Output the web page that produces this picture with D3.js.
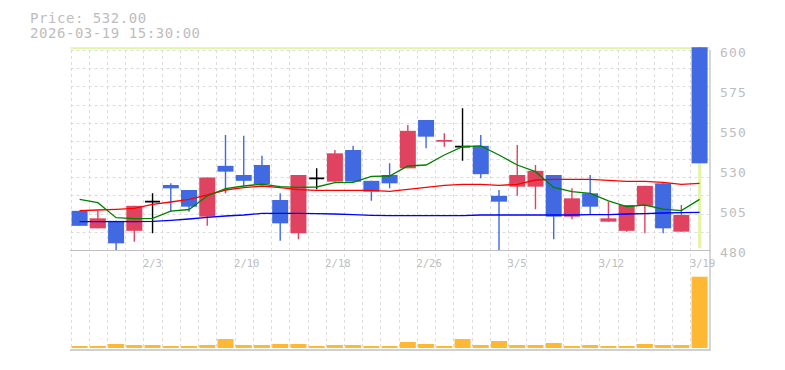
<!DOCTYPE html>
<html><head><meta charset="utf-8">
<script src="https://cdn.jsdelivr.net/npm/d3@7/dist/d3.min.js"></script>
<style>body{margin:0;background:#fff}svg{display:block}</style>
</head><body><svg id="c" width="785" height="370"></svg>
<script>
// ---- data ----
const dates = ["1/28","1/29","1/30","2/2","2/3","2/4","2/5","2/6","2/9","2/10","2/12","2/13","2/16","2/17","2/18","2/19","2/20","2/24","2/25","2/26","2/27","3/2","3/3","3/4","3/5","3/6","3/9","3/10","3/11","3/12","3/13","3/16","3/17","3/18","3/19"];
const openP  = [503.5,493,497.5,491.5,509,519,516,500,530.5,525,531,510,490,523,521,540,521.5,525,529,558,545,542,542.5,512.5,518,518,525,500,514,497,491.5,506.5,520,491,620];
const highP  = [503.5,503.5,497.5,506.5,514,520,516,523.5,549,548.5,536.5,514,525,529,540,542.5,521.5,532,555,558,550,565,549,516,543,531,525,517,525,509,507,518.5,520,507,625];
const lowP   = [494.5,493,478,485,490,503,503,494.5,514,518.5,519.5,485.5,486.5,516.5,521,521,509.5,517,529,541,542,533.5,523,478,512.5,504.5,486.5,498.5,501.5,497,491,490,490,491,481];
const closeP = [494.5,499,484,506.5,509,517,506,523.5,527,521.5,519.5,496,525,523,538,521,515,520,551.5,548,546,542,525.5,509,525,527.5,500,511,506,499,507,518.5,493,501,532];
const volume = [80000,80000,160000,120000,120000,80000,80000,120000,360000,120000,120000,160000,160000,80000,120000,120000,80000,80000,240000,160000,80000,360000,120000,280000,120000,120000,200000,80000,120000,80000,80000,160000,120000,120000,2852000];
const ma5  = [510.4,508.4,499.4,498.8,499,503.3,504.3,512.4,516.8,518.4,519.5,518,517.6,517.8,520.4,520.6,524.2,524.4,530.4,531,537,542,542.5,537,531,527,517.5,515,514,509.5,506,507,504.5,503.6,510.4];
const ma25 = [503.6,504,504.4,505,507.4,508.8,510.4,513,516,517.4,518.4,517.4,516.2,515.8,515.8,515.8,515.8,515.2,516.4,517.6,518.8,519.4,519.4,518.8,519.4,522,522.4,522.4,522.4,521.8,521.2,521.2,520.6,519.4,520];
const ma75 = [497,497,497,497,497.2,497.8,498.6,499.6,500.4,501,502,502,502,501.8,501.6,501.2,500.8,500.6,500.6,500.6,500.6,500.6,501,501,501,501,501,501,501.2,501.2,501.6,501.8,502.2,502.4,502.6];
const xTickLabels = ["2/3","2/10","2/18","2/26","3/5","3/12","3/19"];
const yTickValues = [600,576,552,528,504,480];
const yTickLabels = ["600","575","550","530","505","480"];
const infoLines = ["Price: 532.00","2026-03-19 15:30:00"];

// ---- drawing ----
const svg = d3.select("#c");
const L = 70.5, R = 708.7, PT = 50, PB = 250, VT = 273, VB = 348;
const FONT = "'DejaVu Sans Mono', monospace";
const GRID = "#dcdcdc", AXIS = "#c0c0c0", TXT = "#bdbdbd";
const UP = "#e0435f", DOWN = "#4169e1", EVEN = "#000000", HI = "#e3f5a6";

const x = d3.scaleBand().domain(dates).range([L, R]).padding(0);
const bw = x.bandwidth();
const cx = d => x(d) + bw / 2;
const y = d3.scaleLinear().domain([480, 600]).range([PB, PT]);
const yv = d3.scaleLinear().domain([0, 3000000]).range([VB, VT]);

svg.append("rect").attr("width", 785).attr("height", 370).attr("fill", "#fff");

// info text
svg.selectAll("text.info").data(infoLines).join("text")
  .attr("x", 30).attr("y", (d, i) => 23.3 + i * 14.5)
  .attr("font-family", FONT).attr("font-size", 14).attr("letter-spacing", 0.55)
  .attr("fill", TXT).text(d => d);

// horizontal grid (11 equal divisions of the price panel)
const hg = d3.range(11).map(k => 480 + k * 120 / 11).slice(1).concat([600]);
svg.append("g").selectAll("line").data(hg).join("line")
  .attr("x1", L).attr("x2", R).attr("y1", d => Math.round(y(d)) + 0.5).attr("y2", d => Math.round(y(d)) + 0.5)
  .attr("stroke", GRID).attr("stroke-dasharray", "3,3");

// vertical grid at slot boundaries
svg.append("g").selectAll("line").data(dates).join("line")
  .attr("x1", d => Math.round(x(d)) + 0.5).attr("x2", d => Math.round(x(d)) + 0.5)
  .attr("y1", PT).attr("y2", 350)
  .attr("stroke", GRID).attr("stroke-dasharray", "3,3");

// clip for price panel
svg.append("clipPath").attr("id", "pc").append("rect")
  .attr("x", L).attr("y", PT - 2.7).attr("width", R - L + 2).attr("height", PB - PT + 2.7);

const pg = svg.append("g").attr("clip-path", "url(#pc)");

// top highlight line
pg.append("line").attr("x1", 70).attr("x2", 710).attr("y1", y(600) - 2).attr("y2", y(600) - 2)
  .attr("stroke", HI).attr("stroke-width", 2.6);

const idx = d3.range(dates.length);
const col = i => closeP[i] > openP[i] ? UP : closeP[i] < openP[i] ? DOWN : EVEN;
const last = dates.length - 1;

// wicks
pg.append("g").selectAll("line").data(idx).join("line")
  .attr("x1", i => cx(dates[i])).attr("x2", i => cx(dates[i]))
  .attr("y1", i => y(highP[i]))
  .attr("y2", i => i === last ? y(Math.min(openP[i], closeP[i])) : y(lowP[i]))
  .attr("stroke", col).attr("stroke-width", 1.4);
// highlighted lower wick of the latest candle
pg.append("line")
  .attr("x1", cx(dates[last])).attr("x2", cx(dates[last]))
  .attr("y1", y(closeP[last])).attr("y2", y(lowP[last]))
  .attr("stroke", HI).attr("stroke-width", 3);

// bodies
pg.append("g").selectAll("rect").data(idx.filter(i => openP[i] !== closeP[i])).join("rect")
  .attr("x", i => cx(dates[i]) - 8).attr("width", 16)
  .attr("y", i => y(Math.max(openP[i], closeP[i])))
  .attr("height", i => Math.max(1.7, Math.abs(y(openP[i]) - y(closeP[i]))))
  .attr("fill", col);
pg.append("g").selectAll("line").data(idx.filter(i => openP[i] === closeP[i])).join("line")
  .attr("x1", i => cx(dates[i]) - 7.5).attr("x2", i => cx(dates[i]) + 7.5)
  .attr("y1", i => y(openP[i])).attr("y2", i => y(openP[i]))
  .attr("stroke", col).attr("stroke-width", 1.7);

// moving averages
const line = d3.line().x((d, i) => cx(dates[i])).y(d => y(d));
[[ma75, "#0000ff"], [ma25, "#ff0000"], [ma5, "#008000"]].forEach(([arr, c]) => {
  pg.append("path").datum(arr).attr("d", line).attr("fill", "none")
    .attr("stroke", c).attr("stroke-width", 1.3);
});

// volume bars
svg.append("g").selectAll("rect").data(idx).join("rect")
  .attr("x", i => cx(dates[i]) - 8).attr("width", 16)
  .attr("y", i => yv(volume[i])).attr("height", i => VB - yv(volume[i]))
  .attr("fill", "#ffb833");

// axes frame
svg.append("line").attr("x1", 70).attr("x2", 710.5).attr("y1", 250.5).attr("y2", 250.5).attr("stroke", AXIS).attr("stroke-width", 1.2);
svg.append("line").attr("x1", 70).attr("x2", 710.5).attr("y1", 350).attr("y2", 350).attr("stroke", AXIS).attr("stroke-width", 1.4);
svg.append("line").attr("x1", 710).attr("x2", 710).attr("y1", PT).attr("y2", 350.5).attr("stroke", AXIS).attr("stroke-width", 1.3);

// y labels
svg.append("g").selectAll("text").data(yTickValues).join("text")
  .attr("x", 720).attr("y", d => y(d) + 7.3)
  .attr("font-family", FONT).attr("font-size", 13).attr("letter-spacing", 1.2)
  .attr("fill", TXT).text((d, i) => yTickLabels[i]);

// x labels (left-aligned at slot boundary)
svg.append("g").selectAll("text").data(xTickLabels).join("text")
  .attr("x", d => x(d) - 0.5).attr("y", 266.5)
  .attr("font-family", FONT).attr("font-size", 10.5)
  .attr("fill", TXT).text(d => d);
</script></body></html>
